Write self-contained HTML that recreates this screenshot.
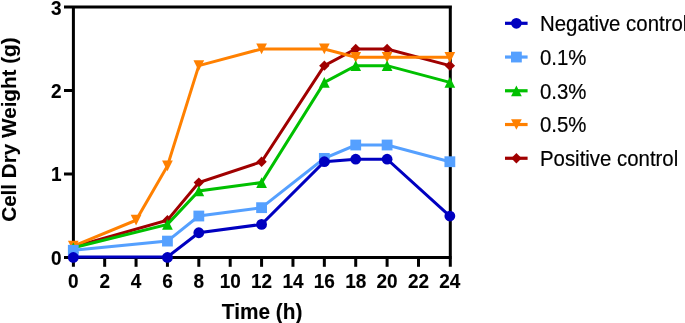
<!DOCTYPE html>
<html><head><meta charset="utf-8"><title>Cell Dry Weight</title>
<style>html,body{margin:0;padding:0;background:#fff;overflow:hidden}svg{display:block}text{fill:#000;stroke:#000;stroke-width:0.18px}text.b{font-weight:bold;stroke-width:0.12px}</style>
</head><body>
<svg width="685" height="323" viewBox="0 0 685 323"><path d="M64 7.00H451.90M73.40 5.40V266.80M450.30 5.40V266.80M64 257.50H451.90" stroke="#000" stroke-width="3.0" fill="none"/>
<path d="M64 174.00H73.40" stroke="#000" stroke-width="3.0"/>
<path d="M64 90.50H73.40" stroke="#000" stroke-width="3.0"/>
<path d="M104.68 257.50V266.80" stroke="#000" stroke-width="3.0"/>
<path d="M136.06 257.50V266.80" stroke="#000" stroke-width="3.0"/>
<path d="M167.44 257.50V266.80" stroke="#000" stroke-width="3.0"/>
<path d="M198.82 257.50V266.80" stroke="#000" stroke-width="3.0"/>
<path d="M230.20 257.50V266.80" stroke="#000" stroke-width="3.0"/>
<path d="M261.58 257.50V266.80" stroke="#000" stroke-width="3.0"/>
<path d="M292.96 257.50V266.80" stroke="#000" stroke-width="3.0"/>
<path d="M324.34 257.50V266.80" stroke="#000" stroke-width="3.0"/>
<path d="M355.72 257.50V266.80" stroke="#000" stroke-width="3.0"/>
<path d="M387.10 257.50V266.80" stroke="#000" stroke-width="3.0"/>
<path d="M418.48 257.50V266.80" stroke="#000" stroke-width="3.0"/>
<polyline points="73.30,246.94 167.44,220.20 198.82,182.61 261.58,161.72 324.34,65.64 355.72,48.93 387.10,48.93 449.86,65.64" fill="none" stroke="#a00000" stroke-width="3" stroke-linejoin="miter"/>
<polygon points="73.30,241.74 78.50,246.94 73.30,252.14 68.10,246.94" fill="#a00000"/>
<polygon points="167.44,215.00 172.64,220.20 167.44,225.40 162.24,220.20" fill="#a00000"/>
<polygon points="198.82,177.41 204.02,182.61 198.82,187.81 193.62,182.61" fill="#a00000"/>
<polygon points="261.58,156.52 266.78,161.72 261.58,166.92 256.38,161.72" fill="#a00000"/>
<polygon points="324.34,60.44 329.54,65.64 324.34,70.84 319.14,65.64" fill="#a00000"/>
<polygon points="355.72,43.73 360.92,48.93 355.72,54.13 350.52,48.93" fill="#a00000"/>
<polygon points="387.10,43.73 392.30,48.93 387.10,54.13 381.90,48.93" fill="#a00000"/>
<polygon points="449.86,60.44 455.06,65.64 449.86,70.84 444.66,65.64" fill="#a00000"/>
<polyline points="73.30,246.10 136.06,220.20 167.44,165.90 198.82,65.64 261.58,48.93 324.34,48.93 355.72,57.28 387.10,57.28 449.86,57.28" fill="none" stroke="#ff8000" stroke-width="3" stroke-linejoin="miter"/>
<polygon points="67.95,240.75 78.65,240.75 73.30,251.45" fill="#ff8000"/>
<polygon points="130.71,214.85 141.41,214.85 136.06,225.55" fill="#ff8000"/>
<polygon points="162.09,160.55 172.79,160.55 167.44,171.25" fill="#ff8000"/>
<polygon points="193.47,60.29 204.17,60.29 198.82,70.99" fill="#ff8000"/>
<polygon points="256.23,43.58 266.93,43.58 261.58,54.28" fill="#ff8000"/>
<polygon points="318.99,43.58 329.69,43.58 324.34,54.28" fill="#ff8000"/>
<polygon points="350.37,51.93 361.07,51.93 355.72,62.63" fill="#ff8000"/>
<polygon points="381.75,51.93 392.45,51.93 387.10,62.63" fill="#ff8000"/>
<polygon points="444.51,51.93 455.21,51.93 449.86,62.63" fill="#ff8000"/>
<polyline points="73.30,247.77 167.44,224.38 198.82,190.96 261.58,182.61 324.34,82.34 355.72,65.64 387.10,65.64 449.86,82.34" fill="none" stroke="#00c000" stroke-width="3" stroke-linejoin="miter"/>
<polygon points="73.30,242.42 78.65,253.12 67.95,253.12" fill="#00c000"/>
<polygon points="167.44,219.03 172.79,229.73 162.09,229.73" fill="#00c000"/>
<polygon points="198.82,185.61 204.17,196.31 193.47,196.31" fill="#00c000"/>
<polygon points="261.58,177.26 266.93,187.96 256.23,187.96" fill="#00c000"/>
<polygon points="324.34,77.00 329.69,87.69 318.99,87.69" fill="#00c000"/>
<polygon points="355.72,60.29 361.07,70.99 350.37,70.99" fill="#00c000"/>
<polygon points="387.10,60.29 392.45,70.99 381.75,70.99" fill="#00c000"/>
<polygon points="449.86,77.00 455.21,87.69 444.51,87.69" fill="#00c000"/>
<polyline points="73.30,250.28 167.44,241.09 198.82,216.03 261.58,207.67 324.34,158.38 355.72,145.01 387.10,145.01 449.86,161.72" fill="none" stroke="#55a0ff" stroke-width="3" stroke-linejoin="miter"/>
<rect x="67.90" y="244.88" width="10.80" height="10.80" fill="#55a0ff"/>
<rect x="162.04" y="235.69" width="10.80" height="10.80" fill="#55a0ff"/>
<rect x="193.42" y="210.62" width="10.80" height="10.80" fill="#55a0ff"/>
<rect x="256.18" y="202.27" width="10.80" height="10.80" fill="#55a0ff"/>
<rect x="318.94" y="152.98" width="10.80" height="10.80" fill="#55a0ff"/>
<rect x="350.32" y="139.61" width="10.80" height="10.80" fill="#55a0ff"/>
<rect x="381.70" y="139.61" width="10.80" height="10.80" fill="#55a0ff"/>
<rect x="444.46" y="156.32" width="10.80" height="10.80" fill="#55a0ff"/>
<polyline points="73.30,256.96 167.44,256.96 198.82,232.74 261.58,224.38 324.34,161.72 355.72,159.21 387.10,159.21 449.86,216.03" fill="none" stroke="#0000c0" stroke-width="3" stroke-linejoin="miter"/>
<circle cx="73.30" cy="257.47" r="5.4" fill="#0000c0"/>
<circle cx="167.44" cy="257.47" r="5.4" fill="#0000c0"/>
<circle cx="198.82" cy="232.74" r="5.4" fill="#0000c0"/>
<circle cx="261.58" cy="224.38" r="5.4" fill="#0000c0"/>
<circle cx="324.34" cy="161.72" r="5.4" fill="#0000c0"/>
<circle cx="355.72" cy="159.21" r="5.4" fill="#0000c0"/>
<circle cx="387.10" cy="159.21" r="5.4" fill="#0000c0"/>
<circle cx="449.86" cy="216.03" r="5.4" fill="#0000c0"/>
<text transform="translate(61.5 264.80) scale(1 1.055)" text-anchor="end" class="b" font-family="Liberation Sans, sans-serif" font-size="19">0</text>
<text transform="translate(61.5 181.30) scale(1 1.055)" text-anchor="end" class="b" font-family="Liberation Sans, sans-serif" font-size="19">1</text>
<text transform="translate(61.5 97.50) scale(1 1.055)" text-anchor="end" class="b" font-family="Liberation Sans, sans-serif" font-size="19">2</text>
<text transform="translate(61.5 14.90) scale(1 1.055)" text-anchor="end" class="b" font-family="Liberation Sans, sans-serif" font-size="19">3</text>
<text transform="translate(73.30 287.6) scale(1 1.055)" text-anchor="middle" class="b" font-family="Liberation Sans, sans-serif" font-size="19">0</text>
<text transform="translate(104.68 287.6) scale(1 1.055)" text-anchor="middle" class="b" font-family="Liberation Sans, sans-serif" font-size="19">2</text>
<text transform="translate(136.06 287.6) scale(1 1.055)" text-anchor="middle" class="b" font-family="Liberation Sans, sans-serif" font-size="19">4</text>
<text transform="translate(167.44 287.6) scale(1 1.055)" text-anchor="middle" class="b" font-family="Liberation Sans, sans-serif" font-size="19">6</text>
<text transform="translate(198.82 287.6) scale(1 1.055)" text-anchor="middle" class="b" font-family="Liberation Sans, sans-serif" font-size="19">8</text>
<text transform="translate(230.20 287.6) scale(1 1.055)" text-anchor="middle" class="b" font-family="Liberation Sans, sans-serif" font-size="19">10</text>
<text transform="translate(261.58 287.6) scale(1 1.055)" text-anchor="middle" class="b" font-family="Liberation Sans, sans-serif" font-size="19">12</text>
<text transform="translate(292.96 287.6) scale(1 1.055)" text-anchor="middle" class="b" font-family="Liberation Sans, sans-serif" font-size="19">14</text>
<text transform="translate(324.34 287.6) scale(1 1.055)" text-anchor="middle" class="b" font-family="Liberation Sans, sans-serif" font-size="19">16</text>
<text transform="translate(355.72 287.6) scale(1 1.055)" text-anchor="middle" class="b" font-family="Liberation Sans, sans-serif" font-size="19">18</text>
<text transform="translate(387.10 287.6) scale(1 1.055)" text-anchor="middle" class="b" font-family="Liberation Sans, sans-serif" font-size="19">20</text>
<text transform="translate(418.48 287.6) scale(1 1.055)" text-anchor="middle" class="b" font-family="Liberation Sans, sans-serif" font-size="19">22</text>
<text transform="translate(449.86 287.6) scale(1 1.055)" text-anchor="middle" class="b" font-family="Liberation Sans, sans-serif" font-size="19">24</text>
<text transform="translate(262.10 318.5) scale(1 1.09)" text-anchor="middle" class="b" font-family="Liberation Sans, sans-serif" font-size="20.8">Time (h)</text>
<text transform="translate(16.1 129.6) rotate(-90)" text-anchor="middle" class="b" font-family="Liberation Sans, sans-serif" font-size="20.66">Cell Dry Weight (g)</text>
<path d="M505 23.30H527.6" stroke="#0000c0" stroke-width="3.2"/>
<circle cx="516.40" cy="23.30" r="5.4" fill="#0000c0"/>
<text transform="translate(540.0 31.10) scale(1 1.07)" font-family="Liberation Sans, sans-serif" font-size="20.4">Negative control</text>
<path d="M505 57.04H527.6" stroke="#55a0ff" stroke-width="3.2"/>
<rect x="511.00" y="51.64" width="10.80" height="10.80" fill="#55a0ff"/>
<text transform="translate(540.0 64.84) scale(1 1.07)" font-family="Liberation Sans, sans-serif" font-size="20.4">0.1%</text>
<path d="M505 90.78H527.6" stroke="#00c000" stroke-width="3.2"/>
<polygon points="516.40,85.43 521.75,96.13 511.05,96.13" fill="#00c000"/>
<text transform="translate(540.0 98.58) scale(1 1.07)" font-family="Liberation Sans, sans-serif" font-size="20.4">0.3%</text>
<path d="M505 124.52H527.6" stroke="#ff8000" stroke-width="3.2"/>
<polygon points="511.05,119.17 521.75,119.17 516.40,129.87" fill="#ff8000"/>
<text transform="translate(540.0 132.32) scale(1 1.07)" font-family="Liberation Sans, sans-serif" font-size="20.4">0.5%</text>
<path d="M505 158.26H527.6" stroke="#a00000" stroke-width="3.2"/>
<polygon points="516.40,153.06 521.60,158.26 516.40,163.46 511.20,158.26" fill="#a00000"/>
<text transform="translate(540.0 166.06) scale(1 1.07)" font-family="Liberation Sans, sans-serif" font-size="20.4">Positive control</text></svg>
</body></html>
